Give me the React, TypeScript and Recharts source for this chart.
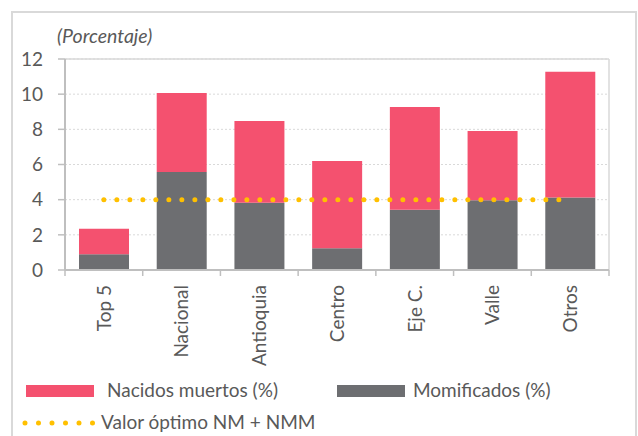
import React from 'react'
import {
  ComposedChart,
  Bar,
  Line,
  XAxis,
  YAxis,
  CartesianGrid,
  Legend,
  ReferenceLine,
} from 'recharts'

// categories and values (percent)
const regiones = ['Top 5', 'Nacional', 'Antioquia', 'Centro', 'Eje C.', 'Valle', 'Otros']
const momificados = [0.9, 5.58, 3.83, 1.23, 3.43, 3.96, 4.13]
const nacidosMuertos = [1.45, 4.49, 4.64, 4.97, 5.84, 3.94, 7.14]
const valorOptimo = [4, 4, 4, 4, 4, 4, 4]
const yTicks = [0, 2, 4, 6, 8, 10, 12]

const PINK = '#F4516F'
const GRAY = '#6D6E71'
const GOLD = '#FFC000'
const TEXT = '#595959'
const AXIS = '#BFBFBF'
const FRAME = '#D9D9D9'
const FONT = 'Lato, "Open Sans", sans-serif'

const data = regiones.map((r, i) => ({
  region: r,
  mom: momificados[i],
  nm: nacidosMuertos[i],
  opt: valorOptimo[i],
}))

// rotated label + tick marks on the category boundaries (Excel style)
function CategoryTick(props: {
  x?: number
  y?: number
  width?: number
  index?: number
  payload?: { value: string }
}) {
  const { x = 0, y = 0, width = 0, index = 0, payload } = props
  const half = width / regiones.length / 2
  const ty = y + 15
  return (
    <g>
      <line x1={x - half} x2={x - half} y1={y} y2={y + 6} stroke={AXIS} strokeWidth={1.5} />
      {index === regiones.length - 1 && (
        <line x1={x + half} x2={x + half} y1={y} y2={y + 6} stroke={AXIS} strokeWidth={1.5} />
      )}
      <text
        x={x}
        y={ty}
        transform={`rotate(-90, ${x}, ${ty})`}
        textAnchor="end"
        dy="0.36em"
        fontSize={19}
        fontFamily={FONT}
        fill={TEXT}
      >
        {payload?.value}
      </text>
    </g>
  )
}

function LegendBox() {
  return (
    <svg width={638} height={66} style={{ display: 'block' }}>
      <rect x={26} y={15} width={68} height={12} fill={PINK} />
      <text x={107} y={27} fontSize={19} fontFamily={FONT} fill={TEXT}>Nacidos muertos (%)</text>
      <rect x={337} y={15} width={68} height={12} fill={GRAY} />
      <text x={413} y={27} fontSize={19} fontFamily={FONT} fill={TEXT}>Momificados (%)</text>
      <line
        x1={25}
        x2={95}
        y1={53}
        y2={53}
        stroke={GOLD}
        strokeWidth={5}
        strokeLinecap="round"
        strokeDasharray="0 13.5"
      />
      <text x={101} y={59} fontSize={19} fontFamily={FONT} fill={TEXT}>Valor óptimo NM + NMM</text>
    </svg>
  )
}

export default function App() {
  return (
    <div style={{ position: 'absolute', left: 0, top: 0, width: 638, height: 436, background: '#fff', overflow: 'hidden' }}>
      <div
        style={{
          position: 'absolute',
          left: 11,
          top: 11,
          width: 622,
          height: 440,
          border: `2px solid ${FRAME}`,
        }}
      />
      <div
        style={{
          position: 'absolute',
          left: 57,
          top: 25,
          fontFamily: FONT,
          fontStyle: 'italic',
          fontSize: 19.5,
          color: TEXT,
          lineHeight: '22px',
        }}
      >
        (Porcentaje)
      </div>
      <div style={{ position: 'absolute', left: 0, top: 0 }}>
        <ComposedChart
          width={638}
          height={436}
          data={data}
          margin={{ top: 59, right: 29, left: 15, bottom: 66 }}
        >
          <CartesianGrid
            vertical={false}
            stroke={FRAME}
            strokeDasharray="2 2"
          />
          <XAxis
            dataKey="region"
            interval={0}
            height={100}
            tickSize={0}
            tickMargin={0}
            tickLine={false}
            axisLine={{ stroke: AXIS, strokeWidth: 2 }}
            tick={<CategoryTick />}
          />
          <YAxis
            domain={[0, 12]}
            ticks={yTicks}
            width={50}
            tickSize={7}
            tickMargin={15}
            tickLine={{ stroke: AXIS, strokeWidth: 1.5 }}
            axisLine={{ stroke: AXIS, strokeWidth: 2 }}
            tick={{ fontSize: 19, fill: TEXT, fontFamily: FONT }}
          />
          {/* plot-area frame: top and right edges */}
          <ReferenceLine y={12} stroke={FRAME} strokeWidth={1.5} />
          <ReferenceLine x="Otros" position="end" stroke={FRAME} strokeWidth={1.5} />
          <Legend
            layout="horizontal"
            verticalAlign="middle"
            align="center"
            content={() => <LegendBox />}
            wrapperStyle={{ left: 0, top: 370, width: 638, height: 66 }}
          />
          <Bar
            dataKey="mom"
            name="Momificados (%)"
            stackId="a"
            fill={GRAY}
            barSize={50}
            isAnimationActive={false}
          />
          <Bar
            dataKey="nm"
            name="Nacidos muertos (%)"
            stackId="a"
            fill={PINK}
            barSize={50}
            isAnimationActive={false}
          />
          <Line
            dataKey="opt"
            name="Valor óptimo NM + NMM"
            stroke={GOLD}
            strokeWidth={5}
            strokeLinecap="round"
            strokeDasharray="0 13"
            dot={false}
            activeDot={false}
            isAnimationActive={false}
          />
        </ComposedChart>
      </div>
    </div>
  )
}
